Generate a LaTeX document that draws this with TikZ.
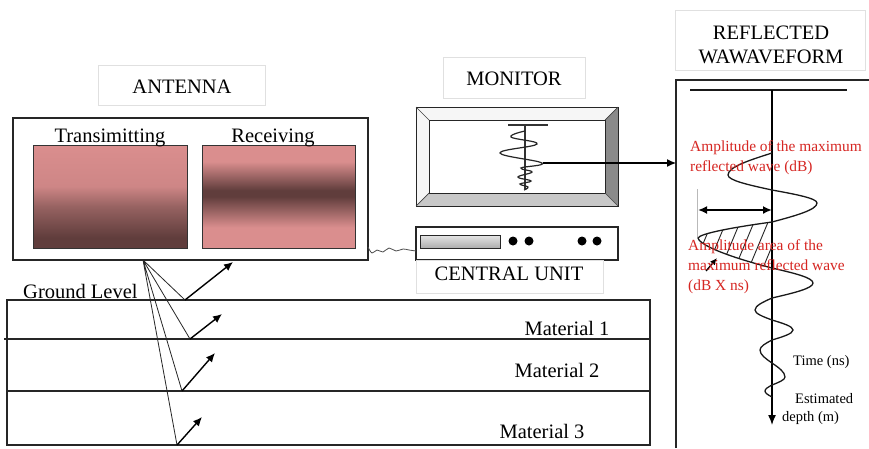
\documentclass[tikz,border=0pt]{standalone}
\usepackage{fontspec}
\setmainfont{Liberation Serif}
\usetikzlibrary{arrows.meta}

\definecolor{panelpink}{RGB}{218,142,142}
\definecolor{panelpinkB}{RGB}{206,134,134}
\definecolor{paneldark}{RGB}{96,61,60}
\definecolor{panelmid}{RGB}{150,98,97}
\definecolor{notered}{RGB}{214,38,34}
\definecolor{bezelR}{RGB}{138,138,138}
\definecolor{bezelB}{RGB}{200,200,200}
\definecolor{bezelL}{RGB}{246,246,246}

% antenna panel gradients (path fitted to 25bp..75bp)
\pgfdeclareverticalshading{txpanel}{100bp}{color(0bp)=(paneldark); color(25bp)=(paneldark); color(30bp)=(paneldark); color(45bp)=(panelmid); color(55bp)=(panelpinkB); color(75bp)=(panelpink); color(100bp)=(panelpink)}
\pgfdeclareverticalshading{rxpanel}{100bp}{color(0bp)=(panelpink); color(25bp)=(panelpink); color(35bp)=(panelpink); color(50bp)=(paneldark); color(53bp)=(paneldark); color(67bp)=(panelpink); color(75bp)=(panelpink); color(100bp)=(panelpink)}

\begin{document}
\begin{tikzpicture}[x=1pt,y=-1pt,
  frame/.style={draw=black!85, line width=1.1pt},
  tagbox/.style={draw=black!12, line width=0.8pt},
  big/.style={font=\fontsize{20.5}{24}\selectfont, inner sep=0pt},
  note/.style={font=\fontsize{15.4}{18}\selectfont, text=notered, inner sep=0pt, anchor=base west},
  small/.style={font=\fontsize{14.5}{18}\selectfont, inner sep=0pt, anchor=base west},
  ray/.style={black!85, line width=0.8pt},
  bounce/.style={-{Latex[length=9pt,width=8pt]}, line width=1.4pt},
  wave/.style={line width=1.3pt, black!90},
  dot/.style={circle, fill=black, inner sep=0pt, minimum size=9pt}]

\useasboundingbox[fill=white] (0,0) rectangle (869,448);

% ---------- antenna ----------
\node[tagbox, minimum width=167pt, minimum height=40pt] (antTag) at (181.5,85) {};
\node[big, anchor=base] (antTxt) at (182,93) {ANTENNA};
\node[frame, minimum width=355pt, minimum height=142pt] (antenna) at (190.5,189) {};
\shade[shading=txpanel, draw=black!80, line width=0.9pt] (33,145) rectangle (187,248);
\shade[shading=rxpanel, draw=black!80, line width=0.9pt] (202,145) rectangle (355,248);
\node[big, anchor=base] (txTxt) at (110,142) {Transimitting};
\node[big, anchor=base] (rxTxt) at (273,142) {Receiving};

% ---------- monitor ----------
\node[tagbox, minimum width=142pt, minimum height=41pt] (monTag) at (514,77.5) {};
\node[big, anchor=base] (monTxt) at (514,85) {MONITOR};
\fill[bezelL] (416,107) -- (618,107) -- (605,120) -- (429,120) -- cycle;
\fill[bezelL] (416,107) -- (429,120) -- (429,193) -- (416,206) -- cycle;
\fill[bezelR] (618,107) -- (618,206) -- (605,193) -- (605,120) -- cycle;
\fill[bezelB] (416,206) -- (618,206) -- (605,193) -- (429,193) -- cycle;
\draw[frame, line width=1pt] (416,107) rectangle (618,206);
\draw[frame, line width=1pt] (429,120) rectangle (605,193);
\draw[black!75, line width=0.7pt] (416,107) -- (429,120) (618,107) -- (605,120)
  (416,206) -- (429,193) (618,206) -- (605,193);
% trace on the screen
\draw[black!80, line width=1.1pt] (508,125) -- (548,125);
\draw[black!80, line width=1.1pt] (525,125) -- (525,189);
\draw[black!85, line width=1.2pt] plot[smooth, tension=0.7] coordinates
  {(525,131) (511,137) (537,144) (500,153) (542,163) (521,168) (532,172)
   (518,177) (531,181) (520,184) (528,187) (524,190)};
\coordinate (monPeak) at (543,163);

% ---------- central unit ----------
\node[frame, minimum width=202pt, minimum height=33pt] (cu) at (517,243.5) {};
\shade[top color=gray!20, bottom color=gray!65, draw=black!85, line width=1pt]
  (420,235) rectangle (500,248);
\node[dot] (d1) at (513,241) {};
\node[dot] (d2) at (529,241) {};
\node[dot] (d3) at (582,241) {};
\node[dot] (d4) at (597,241) {};
\node[tagbox, minimum width=187pt, minimum height=33pt] (cuTag) at (509.5,276.5) {};
\node[big, anchor=base] (cuTxt) at (509,280) {CENTRAL UNIT};

% cable between antenna and central unit
\coordinate (cableA) at (368,247);
\coordinate (cableB) at (416,251);
\draw[black!70, line width=0.8pt] plot[smooth, tension=0.6] coordinates
  {(cableA) (372,253) (377,250) (383,252) (389,248) (396,251) (403,249) (409,250) (cableB)};

% ---------- ground layers ----------
\draw[frame] (7,300) rectangle (650,445);
\draw[frame] (4,339) -- (650,339);
\draw[frame] (7,391) -- (650,391);
\node[big, anchor=base west] (gl) at (23,298) {Ground Level};
\node[big, anchor=base] (m1) at (567,335) {Material 1};
\node[big, anchor=base] (m2) at (557,377) {Material 2};
\node[big, anchor=base] (m3) at (542,438) {Material 3};

% rays from the antenna and their reflections
\coordinate (src) at (143,260);
\coordinate (h1) at (185,300); \coordinate (e1) at (233,262);
\coordinate (h2) at (190,339); \coordinate (e2) at (222,314);
\coordinate (h3) at (182,391); \coordinate (e3) at (215,353);
\coordinate (h4) at (177,445); \coordinate (e4) at (202,417);
\draw[ray] (src) -- (h1) (src) -- (h2) (src) -- (h3) (src) -- (h4);
\draw[bounce] (h1) -- (e1);
\draw[bounce] (h2) -- (e2);
\draw[bounce] (h3) -- (e3);
\draw[bounce] (h4) -- (e4);

% ---------- reflected waveform panel ----------
\node[tagbox, minimum width=190pt, minimum height=60pt] (wfTag) at (770,40) {};
\node[big, anchor=base] (wfTxt1) at (771,39) {REFLECTED};
\node[big, anchor=base] (wfTxt2) at (771,63) {WAWAVEFORM};
\coordinate (pBL) at (676,448);
\coordinate (pTL) at (676,80);
\coordinate (pTR) at (869,80);
\draw[frame] (pBL) -- (pTL) -- (pTR);
\coordinate (panelIn) at (676,163);
\draw[-{Latex[length=9pt,width=8pt]}, line width=1.1pt] (monPeak) -- (panelIn);

\draw[black!90, line width=1.3pt] (690,90) -- (847,90);
\coordinate (axTop) at (772,90);
\coordinate (axBot) at (772,425);

% hatched area of the largest lobe
\begin{scope}
  \clip (772,222) .. controls (733.1,227.3) and (700,233.5) .. (698,238)
        .. controls (700,246) and (733.1,258) .. (772,268) -- cycle;
  \foreach \x in {676,690,...,790}
    \draw[black!85, line width=0.9pt] (\x,275) -- (\x+25,215);
\end{scope}

\draw[-{Latex[length=10pt,width=8pt]}, line width=1.4pt] (axTop) -- (axBot);

\draw[wave] (772,153)
  .. controls (748.9,160.3) and (728,167.1) .. (728,175)
  .. controls (728,180.4) and (748.9,185) .. (772,190)
  .. controls (795.6,194.3) and (817,198.3) .. (817,203)
  .. controls (817,209.8) and (795.6,215.7) .. (772,222)
  .. controls (733.1,227.3) and (700,233.5) .. (698,238)
  .. controls (700,246) and (733.1,258) .. (772,268)
  .. controls (793.5,273) and (813,277.6) .. (813,283)
  .. controls (813,288.4) and (793.5,293) .. (772,298)
  .. controls (763.1,302) and (755,305.7) .. (755,310)
  .. controls (755,313.6) and (763.1,316.7) .. (772,320)
  .. controls (783,323.3) and (793,326.4) .. (793,330)
  .. controls (793,333.6) and (783,336.7) .. (772,340)
  .. controls (765.7,343.3) and (760,346.4) .. (760,350)
  .. controls (760,354.7) and (765.7,358.7) .. (772,363)
  .. controls (778.8,367.7) and (785,372) .. (785,377)
  .. controls (785,379.9) and (778.8,382.3) .. (772,385)
  .. controls (768.3,387) and (765,388.8) .. (765,391)
  .. controls (765,393.2) and (768.3,395) .. (772,397);

% peak amplitude marker
\draw[gray!55, line width=0.7pt] (697,189) -- (697,237);
\coordinate (ampL) at (698,210);
\coordinate (ampR) at (772,210);
\draw[{Latex[length=9pt,width=8pt]}-{Latex[length=9pt,width=8pt]}, line width=1.8pt] (ampL) -- (ampR);
\coordinate (areaTail) at (706,271);
\coordinate (areaTip) at (717,258);
\draw[-{Latex[length=7pt,width=6pt]}, line width=1.3pt] (areaTail) -- (areaTip);

% annotations
\node[note] (n1) at (690,151) {Amplitude of the maximum};
\node[note] (n2) at (690,171) {reflected wave (dB)};
\node[note] (n3) at (688,250) {Amplitude area of the};
\node[note] (n4) at (688,270) {maximum reflected wave};
\node[note] (n5) at (688,290) {(dB X ns)};
\node[small] (tAx) at (793,365) {Time (ns)};
\node[small] (dAx1) at (795,403) {Estimated};
\node[small] (dAx2) at (782,421) {depth (m)};

\end{tikzpicture}
\end{document}
